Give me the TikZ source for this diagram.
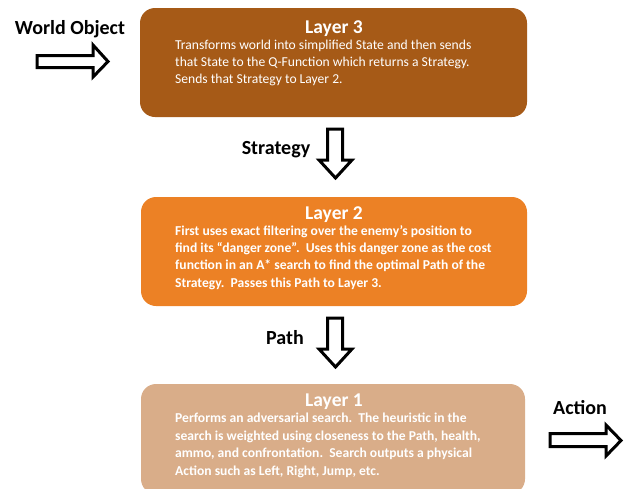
\documentclass[tikz,border=0pt]{standalone}
\usepackage{fontspec}
\setmainfont{Carlito}
\definecolor{lthree}{HTML}{A65A17}
\definecolor{ltwo}{HTML}{EC8125}
\definecolor{lone}{HTML}{D9AD89}
\begin{document}
\begin{tikzpicture}[x=1pt,y=-1pt,
  layerbox/.style={draw=none,rounded corners=15pt},
  titletext/.style={text=white,font=\fontsize{19.5}{21}\selectfont\bfseries,inner sep=0pt},
  bodytext/.style={text=white,align=left,anchor=north west,inner sep=0pt,font=\fontsize{13.6}{17}\selectfont},
  labeltext/.style={text=black,font=\fontsize{20}{22}\selectfont\bfseries,inner sep=0pt},
  blockarrow/.style={draw=black,line width=3pt,fill=white,line join=miter}]
\useasboundingbox (0,0) rectangle (624,488);
% Layer 3
\fill[lthree,layerbox] (140,8) rectangle (527,117);
\node[titletext] (t3) at (334,29) {Layer 3};
\node[bodytext] (b3) at (175,40) {Transforms world into simplified State and then sends\\that State to the Q-Function which returns a Strategy.\\Sends that Strategy to Layer 2.};
% Layer 2
\fill[ltwo,layerbox] (141,197) rectangle (527,306);
\node[titletext] (t2) at (334,215) {Layer 2};
\node[bodytext,font=\fontsize{13.6}{17.3}\selectfont\bfseries] (b2) at (175,225) {First uses exact filtering over the enemy’s position to\\find its “danger zone”.\ \ Uses this danger zone as the cost\\function in an A* search to find the optimal Path of the\\Strategy.\ \ Passes this Path to Layer 3.};
% Layer 1
\fill[lone,layerbox] (141,384) rectangle (525,494);
\node[titletext] (t1) at (334,402) {Layer 1};
\node[bodytext,font=\fontsize{13.6}{17.5}\selectfont\bfseries] (b1) at (175,413) {Performs an adversarial search.\ \ The heuristic in the\\search is weighted using closeness to the Path, health,\\ammo, and confrontation.\ \ Search outputs a physical\\Action such as Left, Right, Jump, etc.};
% labels
\node[labeltext] (lw) at (70,29) {World Object};
\node[labeltext] (ls) at (276,150) {Strategy};
\node[labeltext] (lp) at (285,338) {Path};
\node[labeltext] (la) at (580,408) {Action};
% block arrows
\draw[blockarrow] (37,55.5) -- (93,55.5) -- (93,45) -- (108,61.5) -- (93,77) -- (93,67.5) -- (37,67.5) -- cycle;
\draw[blockarrow] (327.5,129) -- (342.5,129) -- (342.5,160) -- (352,160) -- (335.5,178) -- (319,160) -- (327.5,160) -- cycle;
\draw[blockarrow] (327.5,318) -- (342.5,318) -- (342.5,349) -- (352,349) -- (335.5,367) -- (319,349) -- (327.5,349) -- cycle;
\draw[blockarrow] (550,433.5) -- (606,433.5) -- (606,425) -- (621,440.5) -- (606,456) -- (606,446.5) -- (550,446.5) -- cycle;
\end{tikzpicture}
\end{document}
